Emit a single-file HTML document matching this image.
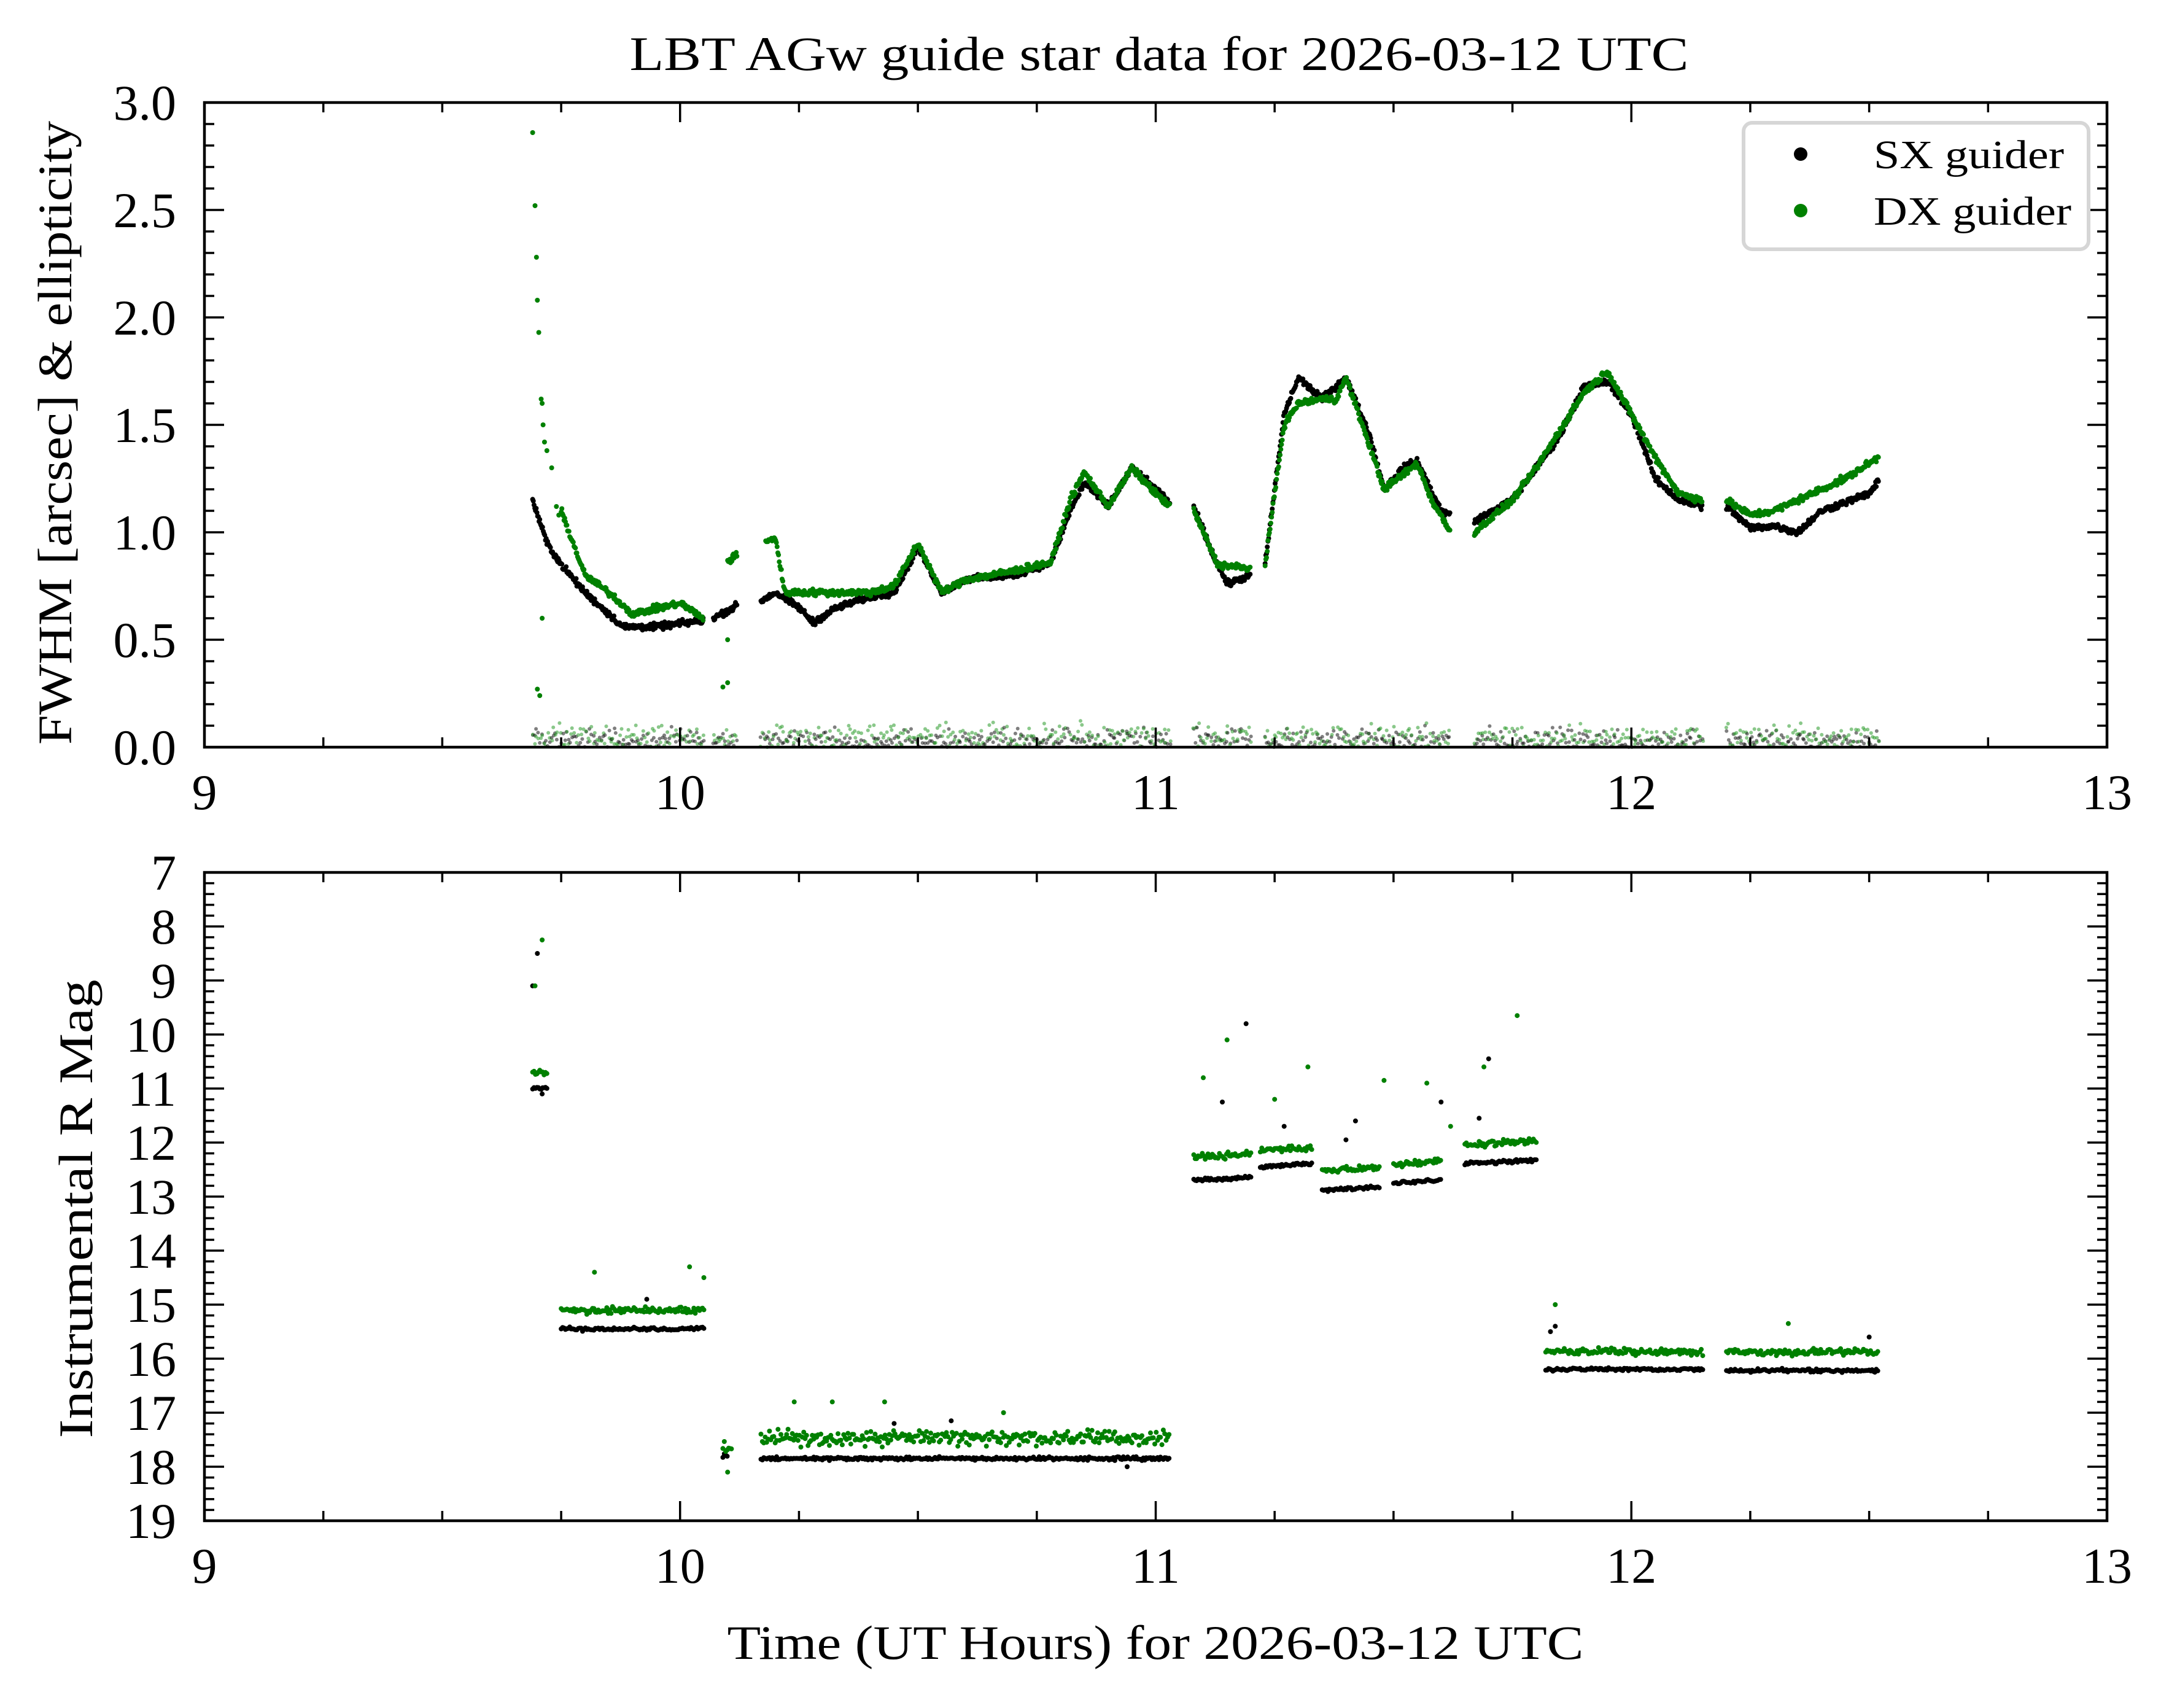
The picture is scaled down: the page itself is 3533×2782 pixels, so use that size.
<!DOCTYPE html>
<html><head><meta charset="utf-8"><style>
html,body{margin:0;padding:0;background:#fff}
svg text{font-family:"Liberation Serif","DejaVu Serif",serif;fill:#000}
</style></head><body>
<svg id="s" xmlns="http://www.w3.org/2000/svg" width="3533" height="2777" viewBox="0 0 3533 2777">
<rect width="3533" height="2777" fill="#fff"/>
<g id="data"></g>
<g id="axes" stroke="#000" fill="none"></g>
<g id="labels"></g>
<text x="1888" y="114" font-size="78" text-anchor="middle" textLength="1725" lengthAdjust="spacingAndGlyphs">LBT AGw guide star data for 2026-03-12 UTC</text>
<text transform="translate(116,705) rotate(-90)" font-size="78" text-anchor="middle" textLength="1016" lengthAdjust="spacingAndGlyphs">FWHM [arcsec] &amp; ellipticity</text>
<text transform="translate(150,1969) rotate(-90)" font-size="78" text-anchor="middle" textLength="747" lengthAdjust="spacingAndGlyphs">Instrumental R Mag</text>
<text x="1882" y="2702" font-size="78" text-anchor="middle" textLength="1395" lengthAdjust="spacingAndGlyphs">Time (UT Hours) for 2026-03-12 UTC</text>
<rect x="2840" y="200" width="562" height="206" rx="14" fill="#fff" stroke="#d6d6d6" stroke-width="6"/>
<circle cx="2933" cy="251" r="11" fill="#000"/>
<circle cx="2933" cy="343" r="11" fill="#008000"/>
<text x="3052" y="274" font-size="66" textLength="310" lengthAdjust="spacingAndGlyphs">SX guider</text>
<text x="3052" y="366" font-size="66" textLength="322" lengthAdjust="spacingAndGlyphs">DX guider</text>
</svg>
<script>
(function(){
var L=333,R=3432,T1=167,B1=1217,T2=1421,B2=2477;
function X(t){return L+(t-9)*(R-L)/4;}
function Y1(v){return B1-v*(B1-T1)/3;}
function Y2(m){return T2+(m-7)*(B2-T2)/12;}
var seed=12345;function rnd(){seed=(seed*1103515245+12345)%2147483648;return seed/2147483648;}
function gauss(){return (rnd()+rnd()+rnd()-1.5);}
var out=[];
function dot(x,y,r,c,o){out.push('<circle cx="'+x.toFixed(1)+'" cy="'+y.toFixed(1)+'" r="'+r+'" fill="'+c+'"'+(o?' fill-opacity="'+o+'"':'')+'/>');}
function interp(pts,t){for(var i=0;i<pts.length-1;i++){if(t>=pts[i][0]&&t<=pts[i+1][0]){var f=(t-pts[i][0])/(pts[i+1][0]-pts[i][0]);return pts[i][1]+f*(pts[i+1][1]-pts[i][1]);}}return null;}
var SX=[
[[9.69,1.15],[9.72,0.95],[9.75,0.85],[9.8,0.72],[9.88,0.56],[9.95,0.56],[10.05,0.59]],
[[10.07,0.6],[10.12,0.66]],
[[10.17,0.68],[10.2,0.72],[10.25,0.65],[10.28,0.58],[10.33,0.65],[10.4,0.70],[10.45,0.72],[10.5,0.93],[10.55,0.72],[10.6,0.78],[10.7,0.80],[10.78,0.86],[10.82,1.1],[10.85,1.23],[10.9,1.12],[10.95,1.3],[11.0,1.2],[11.03,1.13]],
[[11.08,1.12],[11.12,0.9],[11.15,0.76],[11.2,0.8]],
[[11.23,0.85],[11.27,1.55],[11.3,1.72],[11.35,1.62],[11.4,1.72],[11.45,1.45],[11.48,1.2],[11.52,1.3],[11.55,1.33],[11.6,1.1],[11.62,1.08]],
[[11.67,1.05],[11.75,1.15],[11.8,1.3],[11.85,1.45],[11.9,1.68],[11.95,1.7],[12.0,1.55],[12.05,1.25],[12.1,1.15],[12.15,1.12]],
[[12.2,1.12],[12.25,1.02],[12.3,1.03],[12.35,1.0],[12.4,1.1],[12.5,1.18],[12.52,1.24]]];
var DX=[
[[9.75,1.1],[9.8,0.8],[9.85,0.72],[9.9,0.62],[10.0,0.67],[10.05,0.6]],
[[10.1,0.86],[10.12,0.9]],
[[10.18,0.95],[10.2,0.98],[10.22,0.72],[10.3,0.72],[10.4,0.72],[10.45,0.75],[10.5,0.95],[10.55,0.72],[10.6,0.78],[10.7,0.82],[10.78,0.86],[10.82,1.15],[10.85,1.28],[10.9,1.12],[10.95,1.3],[11.0,1.18],[11.03,1.12]],
[[11.08,1.1],[11.13,0.85],[11.2,0.83]],
[[11.23,0.85],[11.27,1.5],[11.3,1.6],[11.35,1.62],[11.38,1.62],[11.4,1.72],[11.45,1.4],[11.48,1.2],[11.55,1.32],[11.58,1.15],[11.62,1.0]],
[[11.67,1.0],[11.75,1.15],[11.8,1.3],[11.9,1.65],[11.95,1.75],[12.0,1.55],[12.05,1.35],[12.1,1.18],[12.15,1.15]],
[[12.2,1.15],[12.25,1.08],[12.3,1.1],[12.4,1.2],[12.45,1.25],[12.52,1.35]]];
function ell(segs){segs.forEach(function(s){var a=s[0][0],b=s[s.length-1][0];for(var t=a;t<=b;t+=0.004){
 dot(X(t+(rnd()-0.5)*0.003),Y1(Math.abs(0.035+gauss()*0.05)),3,'#000',0.5);
 dot(X(t+(rnd()-0.5)*0.003),Y1(Math.abs(0.045+gauss()*0.06)),3,'#2a9a2a',0.55);}});}
ell(SX);
function curve(segs,col,step){segs.forEach(function(s){var a=s[0][0],b=s[s.length-1][0];for(var t=a;t<=b+1e-9;t+=step){var v=interp(s,t);if(v==null)continue;dot(X(t),Y1(v+gauss()*0.015),4,col);}});}
curve(SX,'#000',0.0015);
curve(DX,'#008000',0.0015);
[[9.69,2.86],[9.695,2.52],[9.698,2.28],[9.70,2.08],[9.703,1.93],[9.708,1.62],[9.71,1.6],[9.712,1.5],[9.715,1.42],[9.72,1.38],[9.73,1.3],[9.74,1.12],[9.745,1.08],[10.09,0.28],[10.1,0.5],[10.1,0.3],[9.70,0.27],[9.705,0.24],[9.71,0.6]].forEach(function(p){dot(X(p[0]),Y1(p[1]),4,'#008000');});
var BM=[[9.69,9.72,11.0],[9.75,10.05,15.45],[10.09,10.1,17.8],[10.17,11.03,17.85],[11.08,11.2,12.7],[11.22,11.33,12.45],[11.35,11.47,12.88],[11.5,11.6,12.75],[11.65,11.8,12.4],[11.82,12.15,16.2],[12.2,12.52,16.22]];
var GM=[[9.69,9.72,10.7],[9.75,10.05,15.1],[10.09,10.11,17.6],[10.17,11.03,17.47],[11.08,11.2,12.27],[11.22,11.33,12.15],[11.35,11.47,12.52],[11.5,11.6,12.4],[11.65,11.8,12.05],[11.82,12.15,15.87],[12.2,12.52,15.88]];
function mags(S,col,sc){S.forEach(function(s){for(var t=s[0];t<=s[1]+1e-9;t+=0.003){var m=s[2]+gauss()*sc;if(s[2]<14&&s[2]>12)m+=(t-s[0])*(-0.5);if(col!='#000'&&s[2]>17)m+=gauss()*0.12;dot(X(t),Y2(m),4,col);}});}
mags(BM,'#000',0.03);mags(GM,'#008000',0.06);
[[9.69,9.1],[9.7,8.5],[9.71,11.1],[11.14,11.25],[11.19,9.8],[11.27,11.7],[11.42,11.6],[11.4,11.95],[11.7,10.45],[11.68,11.55],[11.6,11.25],[10.45,17.2],[10.57,17.15],[9.93,14.9],[11.83,15.5],[11.84,15.4],[12.5,15.6],[10.94,18.0]].forEach(function(p){dot(X(p[0]),Y2(p[1]),4,'#000');});
[[9.695,9.1],[9.71,8.25],[11.1,10.8],[11.15,10.1],[11.25,11.2],[11.32,10.6],[11.48,10.85],[11.57,10.9],[11.69,10.6],[11.76,9.65],[9.82,14.4],[10.02,14.3],[10.05,14.5],[10.24,16.8],[10.32,16.8],[10.43,16.8],[10.68,17.0],[10.1,18.1],[11.84,15.0],[12.33,15.35],[11.62,11.7]].forEach(function(p){dot(X(p[0]),Y2(p[1]),4,'#008000');});
document.getElementById('data').innerHTML=out.join('');
var a=[],lb=[];
function line(x1,y1,x2,y2,w){a.push('<line x1="'+x1+'" y1="'+y1+'" x2="'+x2+'" y2="'+y2+'" stroke-width="'+w+'"/>');}
function frame(T,B){a.push('<rect x="'+L+'" y="'+T+'" width="'+(R-L)+'" height="'+(B-T)+'" stroke-width="4.5"/>');
 for(var t=9;t<=13.001;t+=0.25){var x=X(t),maj=Math.abs(t-Math.round(t))<1e-6,len=maj?32:16;line(x,B,x,B-len,3.5);line(x,T,x,T+len,3.5);}}
frame(T1,B1);frame(T2,B2);
for(var i=0;i<=30;i++){var v=i/10,y=Y1(v),maj=i%5==0,len=maj?32:16;line(L,y,L+len,y,3.5);line(R,y,R-len,y,3.5);
 if(maj)lb.push('<text x="287" y="'+(y+28)+'" font-size="82" text-anchor="end">'+v.toFixed(1)+'</text>');}
for(var i=0;i<=60;i++){var m=7+i/5,y=Y2(m),maj=i%5==0,len=maj?32:16;line(L,y,L+len,y,3.5);line(R,y,R-len,y,3.5);
 if(maj)lb.push('<text x="287" y="'+(y+28)+'" font-size="82" text-anchor="end">'+Math.round(m)+'</text>');}
for(var h=9;h<=13;h++){lb.push('<text x="'+X(h)+'" y="1318" font-size="82" text-anchor="middle">'+h+'</text>');lb.push('<text x="'+X(h)+'" y="2578" font-size="82" text-anchor="middle">'+h+'</text>');}
document.getElementById('axes').innerHTML=a.join('');
document.getElementById('labels').innerHTML=lb.join('');
})();
</script>
</body></html>
